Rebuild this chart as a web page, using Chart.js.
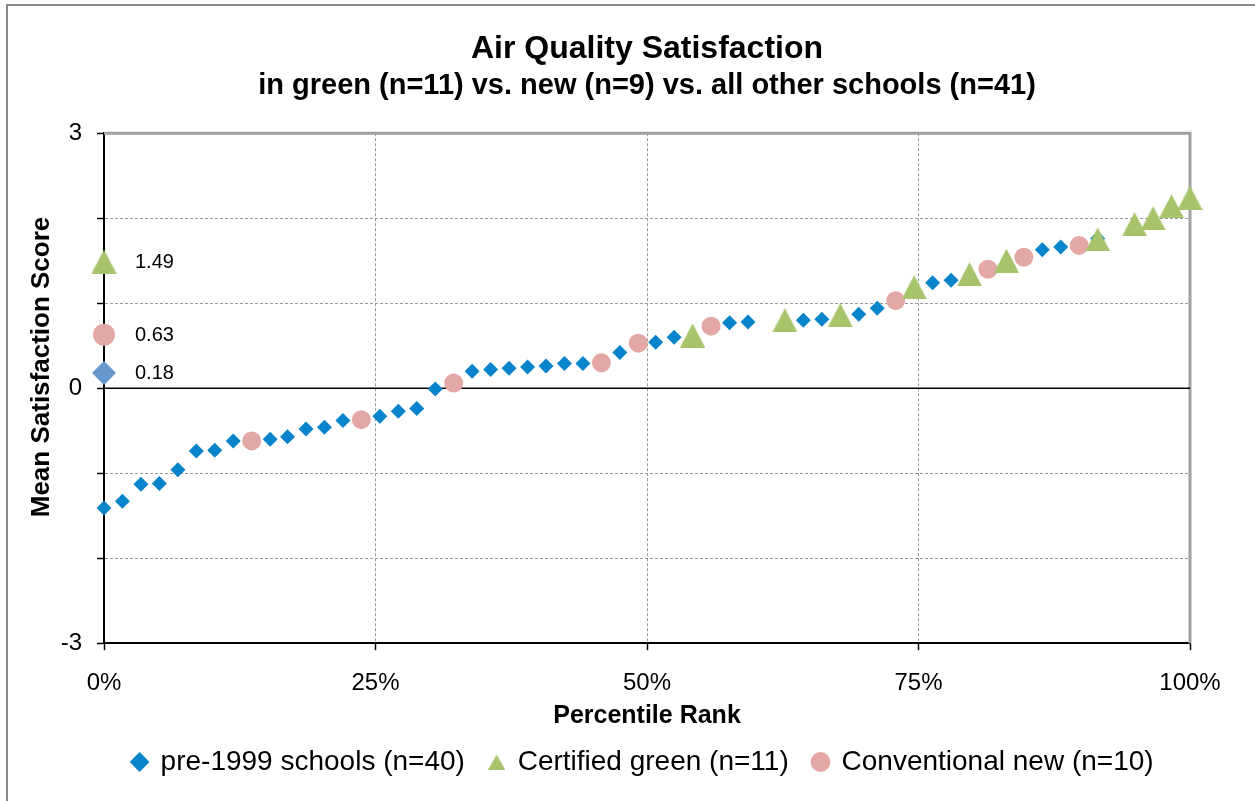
<!DOCTYPE html>
<html>
<head>
<meta charset="utf-8">
<title>Air Quality Satisfaction</title>
<script src="https://cdn.jsdelivr.net/npm/chart.js@4.4.0/dist/chart.umd.min.js"></script>
<style>
  html, body { margin: 0; padding: 0; background: #fff; }
  #wrap { width: 1255px; height: 801px; }
</style>
</head>
<body>
<div id="wrap"><canvas id="airChart" width="1255" height="801"></canvas></div>
<script>
document.addEventListener("DOMContentLoaded", function () {

    // pre-1999 schools (percentile rank %, mean score)
    const preX = [0, 1.7, 3.4, 5.1, 6.8, 8.5, 10.2, 11.9, 15.3, 16.9, 18.6, 20.3, 22.0,
                  25.4, 27.1, 28.8, 30.5, 33.9, 35.6, 37.3, 39.0, 40.7, 42.4, 44.1, 47.5,
                  50.8, 52.5, 57.6, 59.3, 64.4, 66.1, 69.5, 71.2, 76.3, 78.0, 86.4, 88.1, 91.5];
    const preY = [-1.41, -1.33, -1.13, -1.12, -0.96, -0.74, -0.73, -0.62, -0.60, -0.57, -0.48, -0.46, -0.38,
                  -0.33, -0.27, -0.24, -0.01, 0.20, 0.22, 0.235, 0.25, 0.26, 0.29, 0.29, 0.42,
                  0.54, 0.60, 0.77, 0.78, 0.80, 0.81, 0.87, 0.94, 1.24, 1.27, 1.63, 1.66, 1.76];

    // Certified green
    const greenX = [54.2, 62.7, 67.8, 74.6, 79.7, 83.1, 91.5, 94.9, 96.6, 98.3, 100];
    const greenY = [0.62, 0.80, 0.86, 1.19, 1.34, 1.50, 1.75, 1.93, 2.00, 2.14, 2.24];

    // Conventional new
    const newX = [13.6, 23.7, 32.2, 45.8, 49.2, 55.9, 72.9, 81.4, 84.7, 89.8];
    const newY = [-0.62, -0.37, 0.06, 0.30, 0.53, 0.73, 1.03, 1.40, 1.54, 1.68];

    // group means shown on the y axis
    const meanPre = 0.18;
    const meanGreen = 1.49;
    const meanNew = 0.63;

    const seriesNames = ['pre-1999 schools (n=40)', 'Certified green (n=11)', 'Conventional new (n=10)'];
    const xTicks = [0, 25, 50, 75, 100];
    const yLabelTicks = [-3, 0, 3];

    const blue = '#0784cb';
    const green = '#a8c46b';
    const pink = '#e3a8a6';
    const lightBlue = '#6598cc';
    const FONT = "'Liberation Sans', Arial, sans-serif";

    Chart.defaults.font.family = FONT;
    Chart.defaults.color = '#000';

    function pts(xs, ys) {
        return xs.map((x, i) => ({ x: x, y: ys[i] }));
    }

    // Excel style triangle, centred on its box (not its centroid)
    function triangle(w, h, color) {
        const c = document.createElement('canvas');
        c.width = w;
        c.height = h;
        const g = c.getContext('2d');
        g.fillStyle = color;
        g.beginPath();
        g.moveTo(w / 2, 0);
        g.lineTo(w, h);
        g.lineTo(0, h);
        g.closePath();
        g.fill();
        return c;
    }
    const triBig = triangle(25, 24, green);
    const triLegend = triangle(17, 15, green);

    // frame, zero line, mean labels, y title
    const extras = {
        id: 'extras',
        beforeDraw(chart) {
            const ctx = chart.ctx;
            ctx.save();
            ctx.strokeStyle = '#8a8a8a';
            ctx.lineWidth = 2;
            ctx.beginPath();
            ctx.moveTo(7, chart.height);
            ctx.lineTo(7, 5);
            ctx.lineTo(chart.width, 5);
            ctx.stroke();
            ctx.restore();
        },
        beforeDatasetsDraw(chart) {
            const { ctx, chartArea: a, scales } = chart;
            ctx.save();
            ctx.strokeStyle = '#a0a0a0';
            ctx.lineWidth = 3;
            ctx.beginPath();
            ctx.moveTo(a.left, a.top);
            ctx.lineTo(a.right, a.top);
            ctx.lineTo(a.right, a.bottom);
            ctx.stroke();
            const y0 = scales.y.getPixelForValue(0);
            ctx.strokeStyle = '#000';
            ctx.lineWidth = 1.5;
            ctx.beginPath();
            ctx.moveTo(a.left, y0);
            ctx.lineTo(a.right, y0);
            ctx.stroke();
            ctx.restore();
        },
        afterDatasetsDraw(chart) {
            const ctx = chart.ctx;
            ctx.save();
            ctx.font = '20px ' + FONT;
            ctx.fillStyle = '#000';
            ctx.textAlign = 'left';
            ctx.textBaseline = 'middle';
            chart.data.datasets.forEach((ds, i) => {
                if (!ds.isMean) return;
                const p = chart.getDatasetMeta(i).data[0];
                ctx.fillText(ds.data[0].y.toFixed(2), p.x + 31, p.y + 1);
            });
            ctx.restore();
        },
        afterDraw(chart) {
            const ctx = chart.ctx;
            ctx.save();
            ctx.translate(42, 367);
            ctx.rotate(-Math.PI / 2);
            ctx.font = 'bold 26px ' + FONT;
            ctx.fillStyle = '#000';
            ctx.textAlign = 'center';
            ctx.textBaseline = 'middle';
            ctx.fillText('Mean Satisfaction Score', 0, 0);
            ctx.restore();
        }
    };

    new Chart(document.getElementById('airChart'), {
        type: 'scatter',
        data: {
            datasets: [
                {
                    label: seriesNames[0],
                    data: pts(preX, preY),
                    pointStyle: 'rectRot',
                    pointRadius: 7.5,
                    pointHoverRadius: 7.5,
                    backgroundColor: blue,
                    borderColor: blue,
                    borderWidth: 0,
                    order: 3
                },
                {
                    label: seriesNames[1],
                    data: pts(greenX, greenY),
                    pointStyle: triBig,
                    backgroundColor: green,
                    borderColor: green,
                    borderWidth: 0,
                    order: 1
                },
                {
                    label: seriesNames[2],
                    data: pts(newX, newY),
                    pointStyle: 'circle',
                    pointRadius: 9.5,
                    pointHoverRadius: 9.5,
                    backgroundColor: pink,
                    borderColor: pink,
                    borderWidth: 0,
                    order: 2
                },
                {
                    label: 'mean green',
                    isMean: true,
                    data: [{ x: 0, y: meanGreen }],
                    pointStyle: triBig,
                    backgroundColor: green,
                    borderWidth: 0,
                    order: 0
                },
                {
                    label: 'mean new',
                    isMean: true,
                    data: [{ x: 0, y: meanNew }],
                    pointStyle: 'circle',
                    pointRadius: 11,
                    backgroundColor: pink,
                    borderWidth: 0,
                    order: 0
                },
                {
                    label: 'mean pre-1999',
                    isMean: true,
                    data: [{ x: 0, y: meanPre }],
                    pointStyle: 'rectRot',
                    pointRadius: 12,
                    backgroundColor: lightBlue,
                    borderWidth: 0,
                    order: 0
                }
            ]
        },
        options: {
            responsive: false,
            animation: false,
            clip: false,
            layout: { padding: { left: 0, right: 65, top: 0, bottom: 15 } },
            scales: {
                x: {
                    type: 'linear',
                    min: 0,
                    max: 100,
                    afterBuildTicks: (s) => { s.ticks = xTicks.map(v => ({ value: v })); },
                    ticks: {
                        callback: (v) => v + '%',
                        font: { size: 24 },
                        padding: 19,
                        maxRotation: 0
                    },
                    grid: {
                        color: '#9a9a9a',
                        lineWidth: 1,
                        tickLength: 7,
                        tickColor: '#000',
                        tickWidth: 1.5
                    },
                    border: { color: '#000', width: 2, dash: [3, 2] },
                    title: {
                        display: true,
                        text: 'Percentile Rank',
                        font: { size: 25, weight: 'bold' },
                        padding: { top: -16, bottom: 0 }
                    }
                },
                y: {
                    min: -3,
                    max: 3,
                    ticks: {
                        stepSize: 1,
                        callback: (v) => yLabelTicks.includes(v) ? String(v) : '',
                        font: { size: 24 },
                        padding: 15
                    },
                    grid: {
                        color: '#9a9a9a',
                        lineWidth: 1,
                        tickLength: 7,
                        tickColor: '#000',
                        tickWidth: 1.5
                    },
                    border: { color: '#000', width: 2, dash: [3, 2] },
                    afterFit: (s) => { s.width = 104; }
                }
            },
            plugins: {
                title: {
                    display: true,
                    fullSize: false,
                    text: 'Air Quality Satisfaction',
                    font: { size: 32, weight: 'bold' },
                    color: '#000',
                    padding: { top: 30, bottom: 0 }
                },
                subtitle: {
                    display: true,
                    fullSize: false,
                    text: 'in green (n=11) vs. new (n=9) vs. all other schools (n=41)',
                    font: { size: 29, weight: 'bold' },
                    color: '#000',
                    padding: { top: 0, bottom: 30 }
                },
                legend: {
                    position: 'bottom',
                    fullSize: false,
                    labels: {
                        usePointStyle: true,
                        boxWidth: 14,
                        boxHeight: 14,
                        padding: 17,
                        font: { size: 28 },
                        color: '#000',
                        filter: (item, data) => !data.datasets[item.datasetIndex].isMean,
                        sort: (a, b) => a.datasetIndex - b.datasetIndex,
                        generateLabels: (chart) => Chart.defaults.plugins.legend.labels
                            .generateLabels(chart)
                            .map(l => Object.assign(l, {
                                text: l.text + ' ',
                                pointStyle: l.pointStyle === triBig ? triLegend : l.pointStyle
                            }))
                    }
                },
                tooltip: { enabled: false }
            }
        },
        plugins: [extras]
    });

});
</script>
</body>
</html>
